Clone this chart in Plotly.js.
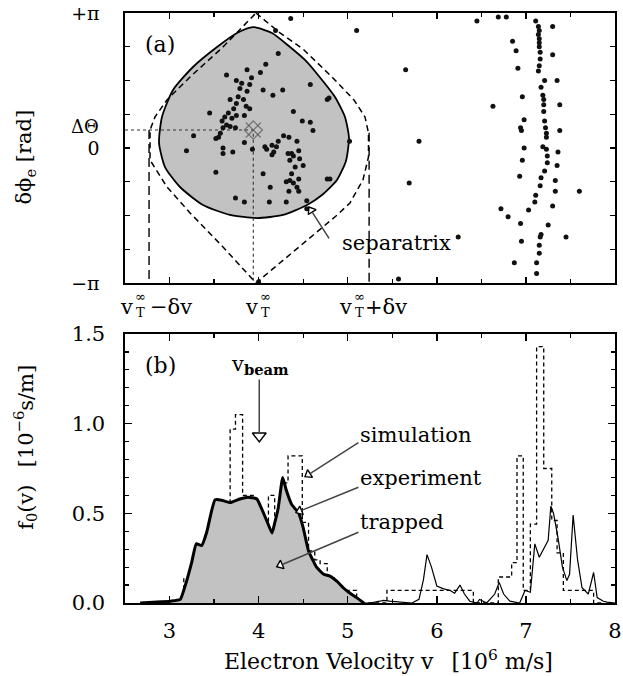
<!DOCTYPE html>
<html><head><meta charset="utf-8">
<script src="https://cdn.plot.ly/plotly-3.0.1.min.js"></script>
<style>html,body{margin:0;padding:0;background:#fff}#chart{width:623px;height:676px}</style>
</head><body><div id="chart"></div>
<script>
// ---------- axis ranges / tick labels ----------
const vRange = [2.5, 8];
const fRange = [0, 1.5];
const phaseTickVals = [-1, -0.75, -0.5, -0.25, 0, 0.25, 0.5, 0.75, 1];
const phaseTickText = ['\u2212\u03c0', '', '', '', '0', '', '', '', '+\u03c0'];

// ---------- panel (a): phase space (phase in units of pi) ----------
const vT = 3.94;          // v_T^inf
const vMinus = 2.77;      // v_T^inf - dv
const vPlus = 5.24;       // v_T^inf + dv
const dTheta = 0.133;     // Delta Theta / pi

const sepV = [3.937,4.150,4.352,4.520,4.666,4.857,4.969,5.014,4.980,4.879,4.711,4.543,4.273,3.981,3.678,3.375,3.117,2.949,2.882,2.915,3.039,3.263,3.533,3.757,3.937];
const sepP = [0.896,0.852,0.748,0.652,0.541,0.378,0.230,0.074,-0.096,-0.237,-0.348,-0.422,-0.496,-0.519,-0.496,-0.422,-0.289,-0.141,0.037,0.230,0.430,0.600,0.748,0.852,0.896];

const outerV = [3.970,4.240,4.498,4.834,5.070,5.194,5.233,5.233,5.171,5.025,4.868,4.722,4.352,3.970,3.600,3.230,2.971,2.781,2.781,2.837,2.971,3.230,3.600,3.970];
const outerP = [1.0,0.852,0.733,0.519,0.356,0.230,0.111,-0.067,-0.237,-0.407,-0.504,-0.585,-0.793,-1.0,-0.733,-0.481,-0.289,-0.089,0.133,0.230,0.356,0.526,0.748,1.0];

const electronV = [4.36,4.19,4.22,3.64,3.87,4.08,4.02,3.75,3.81,3.92,3.90,3.79,3.87,3.77,3.83,3.68,3.75,3.86,3.90,3.72,3.66,3.62,3.70,3.75,3.84,3.59,3.64,3.60,3.68,3.74,3.55,3.57,3.52,3.27,3.19,3.45,4.05,4.16,4.27,4.58,4.39,4.49,4.61,4.58,4.34,4.28,4.43,4.22,4.15,4.07,4.09,4.17,4.15,4.20,4.33,4.37,4.45,4.39,4.35,4.46,4.50,4.41,4.37,4.45,4.35,4.31,4.39,4.43,4.45,4.34,4.13,4.05,3.93,3.84,3.60,3.71,3.60,3.52,3.74,3.84,4.12,4.31,4.54,4.77,4.79,5.02,4.77,4.80,4.54,4.00,
 5.10,5.65,5.80,5.69,5.57,6.24,6.63,6.45,6.69,6.78,6.85,6.89,6.91,6.96,6.98,6.94,6.95,6.98,6.96,6.93,6.72,6.80,7.03,6.94,6.95,6.87,7.11,7.14,7.15,7.14,7.15,7.15,7.15,7.16,7.16,7.15,7.14,7.21,7.17,7.19,7.20,7.20,7.20,7.21,7.22,7.23,7.23,7.19,7.23,7.24,7.24,7.21,7.17,7.16,7.11,7.10,7.17,7.16,7.15,7.15,7.12,7.12,7.30,7.30,7.35,7.38,7.38,7.36,7.35,7.33,7.33,7.30,7.25,7.45,7.60];
const electronP = [0.96,0.87,0.70,0.54,0.58,0.62,0.56,0.50,0.48,0.52,0.47,0.44,0.42,0.38,0.36,0.36,0.33,0.31,0.29,0.29,0.26,0.23,0.22,0.24,0.24,0.20,0.17,0.15,0.16,0.15,0.08,0.11,0.07,0.09,-0.02,0.26,0.43,0.39,0.43,0.47,0.27,0.20,0.13,0.19,0.08,0.09,0.05,0.05,0.02,0.01,-0.01,-0.03,-0.05,0.01,-0.04,-0.04,-0.02,-0.06,-0.09,-0.08,-0.13,-0.14,-0.19,-0.23,-0.24,-0.25,-0.26,-0.29,-0.32,-0.32,-0.29,-0.19,-0.01,0.04,0.00,-0.03,-0.04,-0.18,-0.37,-0.40,-0.40,-0.40,-0.39,0.36,0.37,0.05,-0.23,-0.23,-0.45,-0.99,
 0.87,0.58,0.05,-0.26,-0.97,-0.66,0.31,0.94,0.97,0.97,0.79,0.72,0.59,0.38,0.21,0.15,0.13,0.00,-0.09,-0.21,-0.45,-0.51,-0.46,-0.56,-0.69,-0.85,0.94,0.90,0.87,0.84,0.81,0.78,0.75,0.71,0.66,0.61,0.57,0.50,0.45,0.39,0.36,0.32,0.27,0.20,0.15,0.11,0.08,0.01,-0.01,-0.06,-0.11,-0.17,-0.22,-0.28,-0.35,-0.40,-0.64,-0.66,-0.72,-0.78,-0.85,-0.93,0.90,0.69,0.50,0.32,0.13,-0.03,-0.13,-0.24,-0.32,-0.43,-0.57,-0.66,-0.32];

// ---------- panel (b): distribution functions ----------
const trappedV = [2.67,2.86,3.01,3.12,3.19,3.25,3.30,3.36,3.42,3.47,3.51,3.57,3.68,3.79,3.88,3.98,4.03,4.09,4.15,4.18,4.22,4.27,4.31,4.37,4.45,4.50,4.56,4.65,4.73,4.80,4.88,4.95,5.01,5.10,5.18];
const trappedF = [0.0,0.005,0.01,0.02,0.12,0.23,0.33,0.32,0.40,0.51,0.575,0.575,0.56,0.58,0.59,0.58,0.53,0.46,0.39,0.445,0.53,0.70,0.63,0.55,0.50,0.42,0.29,0.20,0.16,0.15,0.12,0.085,0.06,0.03,0.0];

const experimentV = [5.18,5.25,5.36,5.40,5.47,5.59,5.72,5.80,5.85,5.89,5.94,6.00,6.07,6.15,6.20,6.26,6.31,6.37,6.45,6.48,6.56,6.65,6.70,6.75,6.82,6.93,6.99,7.05,7.10,7.15,7.21,7.25,7.28,7.31,7.36,7.41,7.46,7.49,7.53,7.58,7.63,7.70,7.76,7.80,7.87,7.91,8.0];
const experimentF = [0.0,0.0,0.01,0.015,0.01,0.005,0.0,0.02,0.13,0.27,0.20,0.095,0.08,0.07,0.055,0.10,0.05,0.01,0.0,0.02,0.0,0.05,0.115,0.05,0.01,0.0,0.07,0.06,0.33,0.255,0.31,0.35,0.54,0.50,0.365,0.20,0.125,0.16,0.49,0.24,0.085,0.05,0.17,0.03,0.01,0.005,0.0];

// simulation histogram: bin left edges and bin values (last edge closes)
const simEdges = [3.08,3.16,3.23,3.36,3.43,3.51,3.68,3.74,3.82,3.96,4.03,4.11,4.18,4.26,4.33,4.49,4.56,4.63,4.69,4.77,4.85,4.93,5.10,5.44,6.41,6.69,6.84,6.90,6.97,7.05,7.12,7.20,7.29,7.35,7.42,7.76,7.85];
const simValues = [0.0,0.14,0.07,0.04,0.14,0.54,0.97,1.05,0.60,0.15,0.45,0.60,0.30,0.67,0.82,0.45,0.29,0.24,0.22,0.14,0.05,0.07,0.0,0.07,0.0,0.145,0.225,0.82,0.07,0.44,1.43,0.75,0.46,0.28,0.07,0.0,0.0];

// ---------- labels & callouts ----------
const vLabelAt = [vMinus, vT, vPlus];
const vLabelRest = ['\u2212\u03b4v', '', '+\u03b4v'];
const vLabelShiftPx = [-15, 6, -16];
const vLabelGapPx = [14, 0, 10];

const calloutText = ['simulation', 'experiment', 'trapped'];
const calloutTextF = [0.937, 0.697, 0.450];
const calloutTextV = 5.115;
const calloutTipV = [4.520, 4.419, 4.203];
const calloutTipF = [0.704, 0.504, 0.202];
const calloutTailV = [5.137, 5.137, 5.137];
const calloutTailF = [0.900, 0.649, 0.398];

const sepLabel = {text: 'separatrix', v: 4.913, p: -0.704};
const sepTip = {v: 4.565, p: -0.437};
const sepTail = {v: 4.801, p: -0.681};

const beamLabel = {v: 4.015, f: 1.327};
const beamTip = {v: 4.007, f: 0.898};
const beamTail = {v: 4.007, f: 1.255};

// ---------- geometry helpers (pixels per data unit, from layout) ----------
const W = 623, H = 676, M = {l: 125, r: 8, t: 13, b: 73};
const plotW = W - M.l - M.r, plotH = H - M.t - M.b;
const topDomain = [0.5424, 1.0], botDomain = [0.0, 0.4559];
const pxV = plotW / (vRange[1] - vRange[0]);
const pxF = plotH * (botDomain[1] - botDomain[0]) / (fRange[1] - fRange[0]);
const pxP = plotH * (topDomain[1] - topDomain[0]) / 2;

function head(tipX, tipY, tailX, tailY, pxY, r) {
  const dx = (tipX - tailX) * pxV, dy = -(tipY - tailY) * pxY;
  const L = Math.hypot(dx, dy), ux = dx / L, uy = dy / L;
  return {x: tipX - r * ux / pxV, y: tipY + r * uy / pxY, angle: Math.atan2(ux, -uy) * 180 / Math.PI};
}

const GRAY = '#c2c2c2';
const FONT = 'DejaVu Serif';
const traces = [];

// panel (a)
traces.push({x: sepV, y: sepP, xaxis: 'x2', yaxis: 'y2', mode: 'lines', fill: 'toself', fillcolor: GRAY,
  line: {color: '#000', width: 1.8, shape: 'spline', smoothing: 0.6}, hoverinfo: 'skip'});
traces.push({x: outerV, y: outerP, xaxis: 'x2', yaxis: 'y2', mode: 'lines',
  line: {color: '#000', width: 1.5, dash: '6px,4px'}, hoverinfo: 'skip'});
traces.push({x: [vMinus, vMinus, null, vPlus, vPlus], y: [dTheta, -1, null, dTheta - 0.02, -1], xaxis: 'x2', yaxis: 'y2',
  mode: 'lines', line: {color: '#000', width: 1.4, dash: '9px,5px'}, hoverinfo: 'skip'});
traces.push({x: [vRange[0], vT, vT], y: [dTheta, dTheta, -1], xaxis: 'x2', yaxis: 'y2',
  mode: 'lines', line: {color: '#333', width: 1.1, dash: '3px,3px'}, hoverinfo: 'skip'});
traces.push({x: electronV, y: electronP, xaxis: 'x2', yaxis: 'y2', mode: 'markers',
  marker: {size: 5, color: '#111'}, hoverinfo: 'skip'});
traces.push({x: [vT, vT], y: [dTheta, dTheta], xaxis: 'x2', yaxis: 'y2', mode: 'markers',
  marker: {symbol: ['diamond-open', 'x-thin-open'], size: [14, 15], color: '#555', line: {color: '#555', width: 1.3}}, hoverinfo: 'skip'});
const hs = head(sepTip.v, sepTip.p, sepTail.v, sepTail.p, pxP, 4);
traces.push({x: [hs.x], y: [hs.y], xaxis: 'x2', yaxis: 'y2', mode: 'markers',
  marker: {symbol: 'triangle-up', size: 8, angle: [hs.angle], color: '#fff', line: {color: '#000', width: 1.4}}, hoverinfo: 'skip'});

// panel (b)
traces.push({x: simEdges, y: simValues, xaxis: 'x', yaxis: 'y', mode: 'lines',
  line: {color: '#000', width: 1.3, dash: '4px,3px', shape: 'hv'}, hoverinfo: 'skip'});
traces.push({x: trappedV, y: trappedF, xaxis: 'x', yaxis: 'y', mode: 'lines', fill: 'tozeroy', fillcolor: GRAY,
  line: {color: '#000', width: 3, shape: 'spline', smoothing: 0.4}, hoverinfo: 'skip'});
traces.push({x: experimentV, y: experimentF, xaxis: 'x', yaxis: 'y', mode: 'lines',
  line: {color: '#000', width: 1.2}, hoverinfo: 'skip'});
const bh = calloutTipV.map((t, i) => head(t, calloutTipF[i], calloutTailV[i], calloutTailF[i], pxF, 4));
const beamHead = head(beamTip.v, beamTip.f, beamTail.v, beamTail.f, pxF, 6);
traces.push({x: bh.map(h => h.x), y: bh.map(h => h.y), xaxis: 'x', yaxis: 'y', mode: 'markers',
  marker: {symbol: 'triangle-up', size: 8, angle: bh.map(h => h.angle), color: '#fff', line: {color: '#000', width: 1.4}}, hoverinfo: 'skip'});
traces.push({x: [beamHead.x], y: [beamHead.y], xaxis: 'x', yaxis: 'y', mode: 'markers',
  marker: {symbol: 'triangle-up', size: 12, angle: [beamHead.angle], color: '#fff', line: {color: '#000', width: 1.4}}, hoverinfo: 'skip'});

const annotations = [];
const tf = (s) => ({family: FONT, size: s, color: '#000'});
annotations.push({xref: 'x2', yref: 'y2', x: 2.893, y: 0.77, text: '(a)', showarrow: false, font: tf(22)});
annotations.push({xref: 'x', yref: 'y', x: 2.893, y: 1.327, text: '(b)', showarrow: false, font: tf(22)});
annotations.push({xref: 'paper', yref: 'y2', x: 0, y: dTheta, xanchor: 'right', yanchor: 'middle', xshift: -24, yshift: 4,
  text: '\u0394\u0398', showarrow: false, font: tf(18)});
vLabelAt.forEach((v, i) => {
  const s = vLabelShiftPx[i];
  const base = {xref: 'x2', yref: 'y2', x: v, y: -1, showarrow: false};
  annotations.push(Object.assign({}, base, {text: 'v', xanchor: 'right', yanchor: 'middle', xshift: s + 1, yshift: -24, font: tf(21)}));
  annotations.push(Object.assign({}, base, {text: 'T', xanchor: 'left', yanchor: 'middle', xshift: s, yshift: -30, font: tf(13)}));
  annotations.push(Object.assign({}, base, {text: '\u221e', xanchor: 'left', yanchor: 'middle', xshift: s - 1, yshift: -14, font: tf(13)}));
  if (vLabelRest[i]) annotations.push(Object.assign({}, base, {text: vLabelRest[i], xanchor: 'left', yanchor: 'middle',
    xshift: s + vLabelGapPx[i], yshift: -24, font: tf(21)}));
});
annotations.push({xref: 'x2', yref: 'y2', x: sepLabel.v, y: sepLabel.p, xanchor: 'left', yanchor: 'middle', text: sepLabel.text, showarrow: false, font: tf(21)});
annotations.push({xref: 'x2', yref: 'y2', axref: 'x2', ayref: 'y2', x: sepTip.v, y: sepTip.p, ax: sepTail.v, ay: sepTail.p,
  text: '', showarrow: true, arrowhead: 0, arrowwidth: 1.5, standoff: 6});
calloutText.forEach((t, i) => {
  annotations.push({xref: 'x', yref: 'y', x: calloutTextV, y: calloutTextF[i], xanchor: 'left', yanchor: 'middle', text: t, showarrow: false, font: tf(21)});
  annotations.push({xref: 'x', yref: 'y', axref: 'x', ayref: 'y', x: calloutTipV[i], y: calloutTipF[i], ax: calloutTailV[i], ay: calloutTailF[i],
    text: '', showarrow: true, arrowhead: 0, arrowwidth: 1.5, standoff: 6});
});
annotations.push({xref: 'x', yref: 'y', x: beamLabel.v, y: beamLabel.f, yanchor: 'middle', text: 'v<sub><b>beam</b></sub>', showarrow: false, font: tf(21)});
annotations.push({xref: 'x', yref: 'y', axref: 'x', ayref: 'y', x: beamTip.v, y: beamTip.f, ax: beamTail.v, ay: beamTail.f,
  text: '', showarrow: true, arrowhead: 0, arrowwidth: 1.5, standoff: 9});
// axis titles
annotations.push({xref: 'paper', yref: 'paper', x: -0.204, y: 0.755, xanchor: 'center', yanchor: 'middle', textangle: -90,
  text: '\u03b4\u03d5<sub>e</sub> [rad]', showarrow: false, font: tf(21)});
annotations.push({xref: 'paper', yref: 'paper', x: -0.204, y: 0.263, xanchor: 'center', yanchor: 'middle', textangle: -90,
  text: 'f<sub>0</sub>(v)\u2002 [10<sup>\u22126</sup>s/m]', showarrow: false, font: tf(21)});
annotations.push({xref: 'paper', yref: 'paper', x: 0.537, y: -0.097, xanchor: 'center', yanchor: 'middle',
  text: 'Electron Velocity v\u2002 [10<sup>6</sup> m/s]', showarrow: false, font: tf(22)});

const axBase = {showgrid: false, zeroline: false, showline: true, linecolor: '#000', linewidth: 1.6, mirror: 'ticks',
  ticks: 'inside', tickcolor: '#000', tickwidth: 1.4, tickfont: tf(21)};

const layout = {
  width: W, height: H, margin: M, paper_bgcolor: '#fff', plot_bgcolor: '#fff', showlegend: false,
  xaxis: Object.assign({}, axBase, {domain: [0, 1], anchor: 'y', range: vRange, tick0: 0, dtick: 1, ticklen: 7,
    minor: {dtick: 0.5, tick0: 0, ticklen: 4, tickwidth: 1.2, tickcolor: '#000', ticks: 'inside'}, ticklabelstandoff: 8}),
  yaxis: Object.assign({}, axBase, {domain: botDomain, anchor: 'x', range: fRange, tick0: 0, dtick: 0.5, tickformat: '.1f', ticklen: 7,
    minor: {dtick: 0.1, tick0: 0, ticklen: 4, tickwidth: 1.2, tickcolor: '#000', ticks: 'inside'}, ticklabelstandoff: 14}),
  xaxis2: Object.assign({}, axBase, {domain: [0, 1], anchor: 'y2', range: vRange, tick0: 0, dtick: 1, ticklen: 6, showticklabels: false,
    minor: {dtick: 0.5, tick0: 0, ticklen: 4, tickwidth: 1.2, tickcolor: '#000', ticks: 'inside'}}),
  yaxis2: Object.assign({}, axBase, {domain: topDomain, anchor: 'x2', range: [-1, 1], tickmode: 'array',
    tickvals: phaseTickVals, ticktext: phaseTickText, ticklen: 5, tickfont: tf(19), ticklabelstandoff: 20}),
  annotations: annotations
};

Plotly.newPlot('chart', traces, layout, {staticPlot: true, displayModeBar: false});
</script></body></html>
